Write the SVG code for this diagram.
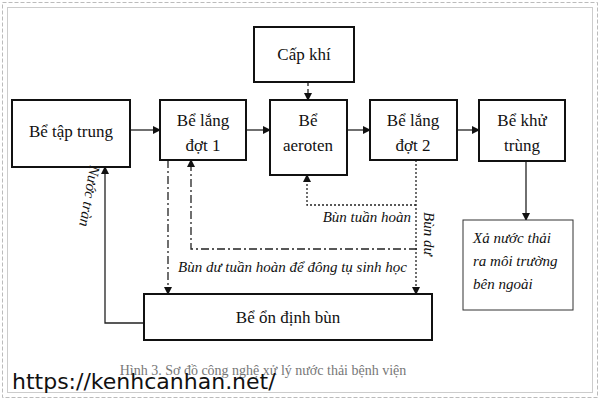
<svg xmlns="http://www.w3.org/2000/svg" width="600" height="400" viewBox="0 0 600 400">
<style>
.b{fill:#fff;stroke:#111;stroke-width:2}
.t{font-family:"Liberation Serif",serif;font-size:17px;fill:#111;text-anchor:middle}
.i{font-family:"Liberation Serif",serif;font-size:15px;fill:#111;font-style:italic}
.c{fill:none;stroke:#222;stroke-width:1.3}
</style>
<defs><marker id="a" markerWidth="8" markerHeight="8" refX="7" refY="4" orient="auto" markerUnits="userSpaceOnUse"><path d="M0,0L8,4L0,8z" fill="#111"/></marker></defs>
<rect width="600" height="400" fill="#fff"/>
<rect x="2.5" y="2.5" width="595" height="395" fill="none" stroke="#bbb" stroke-dasharray="4,2"/>
<rect x="7.5" y="7.5" width="585" height="385" fill="none" stroke="#ccc"/>
<g id="connectors">
<line class="c" x1="130" y1="130" x2="160" y2="130" marker-end="url(#a)"/>
<line class="c" x1="246" y1="130" x2="270" y2="130" marker-end="url(#a)"/>
<line class="c" x1="347" y1="130" x2="370" y2="130" marker-end="url(#a)"/>
<line class="c" x1="457" y1="130" x2="479" y2="130" marker-end="url(#a)"/>
<line class="c" x1="308" y1="82" x2="308" y2="100" stroke-dasharray="4,3" marker-end="url(#a)"/>
<line class="c" x1="526" y1="161" x2="526" y2="220" marker-end="url(#a)"/>
<polyline class="c" points="144,323 105,323 105,167" marker-end="url(#a)"/>
<line class="c" x1="168" y1="160" x2="168" y2="294" stroke-dasharray="8,3,2,3" marker-end="url(#a)"/>
<polyline class="c" points="417,249 191,249 191,160" stroke-dasharray="8,3,2,3" marker-end="url(#a)"/>
<line class="c" x1="416" y1="160" x2="416" y2="294" stroke-dasharray="2,2" marker-end="url(#a)"/>
<polyline class="c" points="416,205 307,205 307,175" stroke-dasharray="2,2" marker-end="url(#a)"/>
</g>
<g id="capkhi"><rect class="b" x="254" y="27" width="100" height="55"/><text class="t" x="304" y="60">Cấp khí</text></g>
<g id="taptrung"><rect class="b" x="12" y="100" width="118" height="67"/><text class="t" x="71" y="137">Bể tập trung</text></g>
<g id="lang1"><rect class="b" x="160" y="100" width="86" height="60"/><text class="t" x="203" y="126">Bể lắng</text><text class="t" x="203" y="151">đợt 1</text></g>
<g id="aeroten"><rect class="b" x="270" y="100" width="77" height="75"/><text class="t" x="308" y="126">Bể</text><text class="t" x="308" y="151">aeroten</text></g>
<g id="lang2"><rect class="b" x="370" y="100" width="87" height="60"/><text class="t" x="413" y="126">Bể lắng</text><text class="t" x="413" y="151">đợt 2</text></g>
<g id="khutrung"><rect class="b" x="479" y="100" width="86" height="61"/><text class="t" x="522" y="126">Bể khử</text><text class="t" x="522" y="151">trùng</text></g>
<g id="xa"><rect x="463" y="220" width="110" height="90" fill="#fff" stroke="#333" stroke-width="1"/><text class="i" x="473" y="243">Xả nước thải</text><text class="i" x="473" y="266">ra môi trường</text><text class="i" x="473" y="289">bên ngoài</text></g>
<g id="ondinh"><rect class="b" x="144" y="294" width="288" height="46"/><text class="t" x="288" y="323">Bể ổn định bùn</text></g>
<text class="i" x="411" y="222" text-anchor="end">Bùn tuần hoàn</text>
<text class="i" x="178" y="272">Bùn dư tuần hoàn để đông tụ sinh học</text>
<text class="i" transform="translate(424,212) rotate(90)">Bùn dư</text>
<text class="i" transform="translate(90,165) rotate(100)">Nước tràn</text>
<text x="263" y="375" font-family="Liberation Serif,serif" font-size="14" fill="#777" text-anchor="middle">Hình 3. Sơ đồ công nghệ xử lý nước thải bệnh viện</text>
<text x="12" y="389" font-family="DejaVu Sans,sans-serif" font-size="22" fill="#111">https://kenhcanhan.net/</text>
</svg>
